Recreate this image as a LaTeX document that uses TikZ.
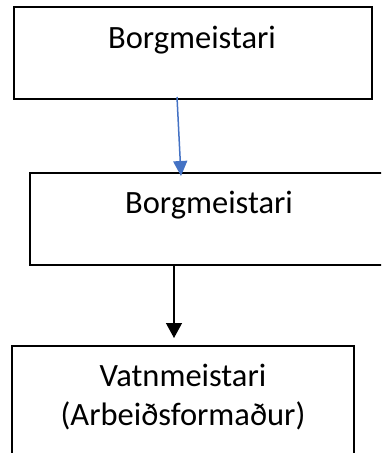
\documentclass[tikz,border=0pt]{standalone}
\usepackage{fontspec}
\setmainfont{Carlito}
\usetikzlibrary{arrows.meta}
\definecolor{wordblue}{RGB}{68,114,196}
\tikzset{
    box/.style={draw, line width=1.4pt, inner sep=0pt, outer sep=0pt},
    lbl/.style={font=\fontsize{32.5}{39}\selectfont, align=center, inner sep=0pt}
}
\begin{document}
\begin{tikzpicture}[x=1pt,y=1pt]
            \useasboundingbox (0,0) rectangle (381,-453);
            \clip (0,0) rectangle (381,-453);
            % boxes
            \node[box, minimum width=358pt, minimum height=92pt] (borg1) at (193,-53) {};
            \node[box, minimum width=358pt, minimum height=92pt] (borg2) at (209,-219) {};
            \node[box, minimum width=342pt, minimum height=110pt] (vatn) at (183,-401) {};
            % texts
            \node[lbl, anchor=base] (borg1txt) at ([xshift=-1pt,yshift=-41pt]borg1.north) {Borgmeistari};
            \node[lbl, anchor=base] (borg2txt) at ([yshift=-40pt]borg2.north) {Borgmeistari};
            \node[lbl, anchor=base] (vatntxt) at ([yshift=-79pt]vatn.north) {Vatnmeistari\\(Arbeiðsformaður)};
            % arrows
            \draw[wordblue, line width=1.5pt, -{Triangle[length=15pt,width=14pt]}]
                ([xshift=-16pt,yshift=2pt]borg1.south) -- ([xshift=-28pt,yshift=-3pt]borg2.north);
            \draw[line width=1.3pt, -{Triangle[length=15pt,width=16pt]}]
                ([xshift=-35pt]borg2.south) -- ([xshift=-9pt,yshift=8pt]vatn.north);
        \end{tikzpicture}
\end{document}
